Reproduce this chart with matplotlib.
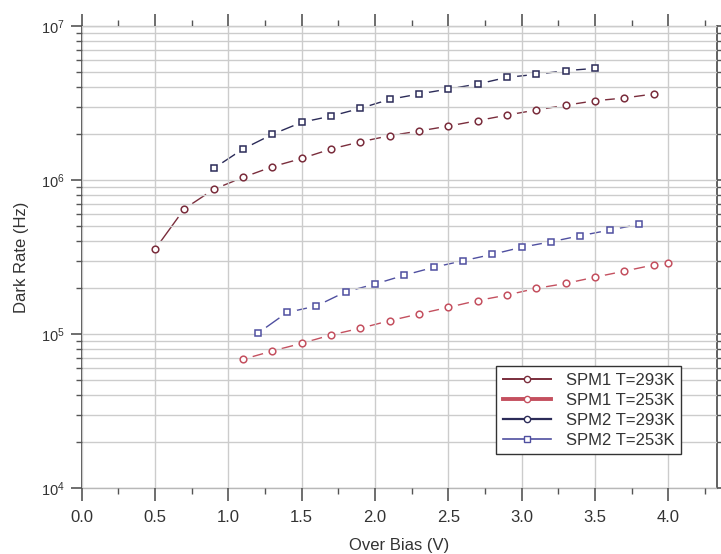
import matplotlib
matplotlib.use('Agg')
import matplotlib.pyplot as plt
from matplotlib.lines import Line2D
from matplotlib.ticker import LogLocator, MultipleLocator, NullFormatter

plt.rcParams['font.family'] = ['Liberation Sans', 'DejaVu Sans']
plt.rcParams['mathtext.fontset'] = 'custom'
plt.rcParams['mathtext.rm'] = 'Liberation Sans'
plt.rcParams['mathtext.it'] = 'Liberation Sans:italic'

# ---- data ----
x_spm1_293 = [0.5, 0.7, 0.9, 1.1, 1.3, 1.5, 1.7, 1.9, 2.1, 2.3, 2.5, 2.7, 2.9, 3.1, 3.3, 3.5, 3.7, 3.9]
y_spm1_293 = [3.55e5, 6.5e5, 8.7e5, 1.04e6, 1.22e6, 1.38e6, 1.59e6, 1.77e6, 1.94e6, 2.08e6,
              2.24e6, 2.43e6, 2.64e6, 2.85e6, 3.06e6, 3.27e6, 3.41e6, 3.62e6]

x_spm1_253 = [1.1, 1.3, 1.5, 1.7, 1.9, 2.1, 2.3, 2.5, 2.7, 2.9, 3.1, 3.3, 3.5, 3.7, 3.9, 4.0]
y_spm1_253 = [6.85e4, 7.76e4, 8.7e4, 9.86e4, 1.09e5, 1.22e5, 1.35e5, 1.49e5, 1.65e5, 1.79e5,
              1.98e5, 2.13e5, 2.34e5, 2.56e5, 2.81e5, 2.90e5]

x_spm2_293 = [0.9, 1.1, 1.3, 1.5, 1.7, 1.9, 2.1, 2.3, 2.5, 2.7, 2.9, 3.1, 3.3, 3.5]
y_spm2_293 = [1.19e6, 1.59e6, 1.98e6, 2.37e6, 2.60e6, 2.92e6, 3.34e6, 3.62e6, 3.90e6, 4.20e6,
              4.64e6, 4.86e6, 5.13e6, 5.31e6]

x_spm2_253 = [1.2, 1.4, 1.6, 1.8, 2.0, 2.2, 2.4, 2.6, 2.8, 3.0, 3.2, 3.4, 3.6, 3.8]
y_spm2_253 = [1.01e5, 1.38e5, 1.52e5, 1.88e5, 2.11e5, 2.41e5, 2.71e5, 2.99e5, 3.29e5, 3.66e5,
              3.97e5, 4.35e5, 4.73e5, 5.15e5]

x_ticks = [0.0, 0.5, 1.0, 1.5, 2.0, 2.5, 3.0, 3.5, 4.0]
x_tick_labels = ['0.0', '0.5', '1.0', '1.5', '2.0', '2.5', '3.0', '3.5', '4.0']

labels = ['SPM1 T=293K', 'SPM1 T=253K', 'SPM2 T=293K', 'SPM2 T=253K']
colors = ['#7a2d3c', '#c4505f', '#2b2b58', '#4f4fa0']
markers = ['o', 'o', 's', 's']

series = [(x_spm1_293, y_spm1_293), (x_spm1_253, y_spm1_253),
          (x_spm2_293, y_spm2_293), (x_spm2_253, y_spm2_253)]

fig = plt.figure(figsize=(7.21, 5.54), dpi=100)
ax = fig.add_axes([0.1133, 0.1191, 0.8807, 0.8339])
ax.set_yscale('log')
ax.set_xlim(0, 4.33)
ax.set_ylim(1e4, 1e7)

for (xs, ys), c, m in zip(series, colors, markers):
    ax.plot(xs, ys, color=c, lw=1.0, zorder=1.5)
    ax.plot(xs, ys, ls='none', marker='o', ms=14, mfc='white', mec='none', zorder=2)
    ax.plot(xs, ys, ls='none', marker=m, ms=4.8, mfc='white', mec=c, mew=1.1, zorder=3)

ax.set_axisbelow(False)
ax.xaxis.set_minor_locator(MultipleLocator(0.25))
ax.yaxis.set_major_locator(LogLocator(base=10))
ax.yaxis.set_minor_locator(LogLocator(base=10, subs=range(2, 10)))
ax.yaxis.set_minor_formatter(NullFormatter())
ax.set_xticks(x_ticks)
ax.set_xticklabels(x_tick_labels)

ax.grid(True, which='major', axis='x', color='#cccccc', lw=1.0)
ax.grid(True, which='both', axis='y', color='#cccccc', lw=1.0)

ax.tick_params(axis='x', which='major', direction='out', length=9, width=1.2,
               top=True, colors='#555555', labelcolor='#333333', labelsize=12, pad=7)
ax.tick_params(axis='x', which='minor', direction='out', length=4, width=1.0,
               top=True, colors='#555555')
ax.tick_params(axis='y', which='major', direction='out', length=8, width=1.2,
               right=True, colors='#555555', labelcolor='#333333', labelsize=10.5, pad=4)
ax.tick_params(axis='y', which='minor', direction='out', length=4, width=1.0,
               right=True, colors='#555555')

for s in ['left', 'right']:
    ax.spines[s].set_color('#555555')
    ax.spines[s].set_linewidth(1.3)
for s in ['top', 'bottom']:
    ax.spines[s].set_color('#b8b8b8')
    ax.spines[s].set_linewidth(1.0)

ax.set_xlabel('Over Bias (V)', fontsize=12, color='#333333', labelpad=9)
ax.set_ylabel('Dark Rate (Hz)', fontsize=12, color='#333333', labelpad=9)

handles = [
    Line2D([], [], color=colors[0], lw=1.4, marker='o', ms=4.5, mfc='white', mec=colors[0]),
    Line2D([], [], color=colors[1], lw=2.8, marker='o', ms=4.5, mfc='white', mec=colors[1]),
    Line2D([], [], color=colors[2], lw=1.6, marker='o', ms=4.5, mfc='white', mec=colors[2]),
    Line2D([], [], color=colors[3], lw=1.2, marker='s', ms=4.5, mfc='white', mec=colors[3]),
]
leg = ax.legend(handles, labels, loc='upper left',
                bbox_to_anchor=(496 / 721, 1 - 366 / 554), bbox_transform=fig.transFigure,
                borderaxespad=0, fontsize=12, frameon=True, fancybox=False,
                edgecolor='#333333', framealpha=1, handlelength=2.9, handletextpad=0.9,
                labelspacing=0.3, borderpad=0.4)
leg.get_frame().set_linewidth(1.0)
for t in leg.get_texts():
    t.set_color('#333333')
leg.set_zorder(5)

fig.savefig('out.png', dpi=100)
